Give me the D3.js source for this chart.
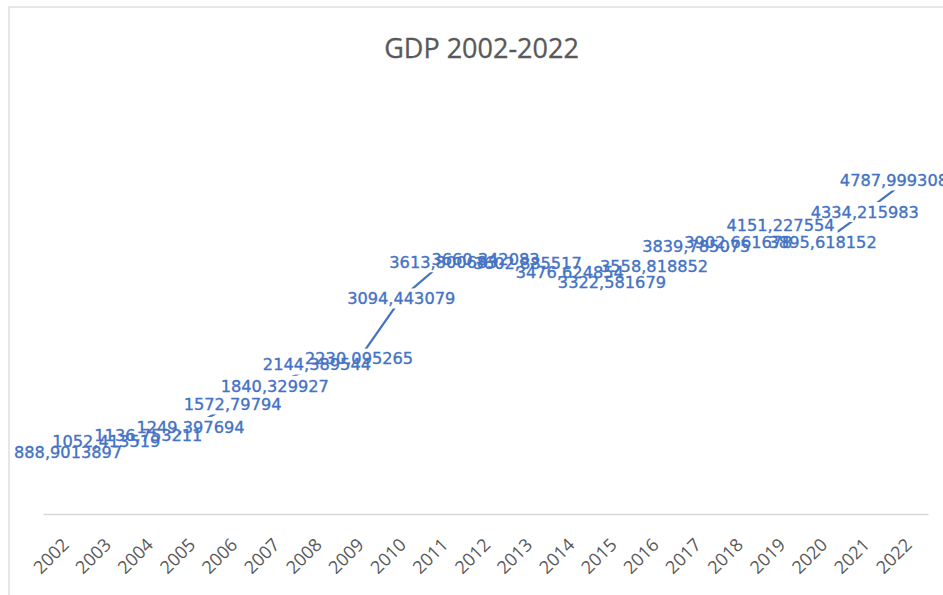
<!DOCTYPE html>
<html>
<head>
<meta charset="utf-8">
<script src="https://cdn.jsdelivr.net/npm/d3@7"></script>
<style>
  body { margin: 0; background: #fff; }
  #chart { width: 943px; height: 595px; }
</style>
</head>
<body>
<div id="chart"></div>
<script>
// GDP values (Excel labels use a decimal comma)
const years = ["2002", "2003", "2004", "2005", "2006", "2007", "2008", "2009", "2010", "2011", "2012",
  "2013", "2014", "2015", "2016", "2017", "2018", "2019", "2020", "2021", "2022"];
const gdp = [888.9013897, 1052.413519, 1136.753211, 1249.397694, 1572.79794, 1840.329927, 2144.389544,
  2230.095265, 3094.443079, 3613.800683, 3660.342083, 3602.885517, 3476.624854, 3322.581679,
  3558.818852, 3839.785075, 3902.661678, 4151.227554, 3895.618152, 4334.215983, 4787.999308];
const yDomain = [0, 6000];
const title = "GDP 2002-2022";

const width = 943, height = 595;
const plot = { left: 43, right: 928, top: 96, bottom: 514 };
const chartArea = { left: 9, top: 7, right: 954 };
const blue = "#4472C4";

const data = years.map(function (y, i) {
  return { year: y, value: gdp[i] };
});

const svg = d3.select("#chart")
  .append("svg")
  .attr("width", width)
  .attr("height", height);

// chart area border
svg.append("rect")
  .attr("x", chartArea.left)
  .attr("y", chartArea.top)
  .attr("width", 1200)
  .attr("height", 1200)
  .attr("fill", "#fff")
  .attr("stroke", "#d9d9d9")
  .attr("stroke-width", 1.25);

svg.append("text")
  .attr("x", (chartArea.left + chartArea.right) / 2)
  .attr("y", 58)
  .attr("text-anchor", "middle")
  .attr("font-family", "Open Sans")
  .attr("font-size", "27px")
  .attr("fill", "#595959")
  .attr("stroke", "#595959")
  .attr("stroke-width", 0.3)
  .text(title);

const x = d3.scaleBand().domain(years).range([plot.left, plot.right]);
const y = d3.scaleLinear().domain(yDomain).range([plot.bottom, plot.top]);
const cx = function (d) { return x(d.year) + x.bandwidth() / 2; };

// category axis: just the line plus rotated labels
const xAxis = d3.axisBottom(x).tickSize(0).tickPadding(0);
const gx = svg.append("g")
  .attr("transform", "translate(0," + plot.bottom + ")")
  .call(xAxis);
gx.select(".domain").attr("stroke", "#d9d9d9").attr("stroke-width", 1.5);
gx.selectAll(".tick text")
  .attr("font-family", "Open Sans")
  .attr("font-size", "18px")
  .attr("fill", "#595959")
  .attr("text-anchor", "end")
  .attr("y", 0)
  .attr("dy", 0)
  .attr("transform", "translate(6,32) rotate(-45)");

const line = d3.line()
  .x(cx)
  .y(function (d) { return y(d.value); });

svg.append("path")
  .datum(data)
  .attr("d", line)
  .attr("fill", "none")
  .attr("stroke", blue)
  .attr("stroke-width", 2.25)
  .attr("stroke-linejoin", "round");

// data labels centred on the points, white boxes hide the line underneath
const fmt = function (v) { return String(v).replace(".", ","); };
const boxLayer = svg.append("g");
const labelLayer = svg.append("g");

const labels = labelLayer.selectAll("text")
  .data(data)
  .enter()
  .append("text")
  .attr("font-family", "DejaVu Sans")
  .attr("font-size", "16.2px")
  .attr("fill", blue)
  .attr("stroke", blue)
  .attr("stroke-width", 0.35)
  .attr("text-anchor", "middle")
  .attr("dy", "0.36em")
  .attr("y", function (d) { return y(d.value); })
  .text(function (d) { return fmt(d.value); });

labels.each(function (d) {
  const w = this.getComputedTextLength();
  let px = cx(d);
  // keep labels inside the chart area like Excel does
  if (px - w / 2 < chartArea.left + 5) px = chartArea.left + 5 + w / 2;
  if (px + w / 2 > chartArea.right - 6) px = chartArea.right - 6 - w / 2;
  d3.select(this).attr("x", px);
  boxLayer.append("rect")
    .attr("x", px - w / 2 - 3)
    .attr("y", y(d.value) - 10)
    .attr("width", w + 6)
    .attr("height", 20)
    .attr("fill", "#fff");
});
</script>
</body>
</html>
